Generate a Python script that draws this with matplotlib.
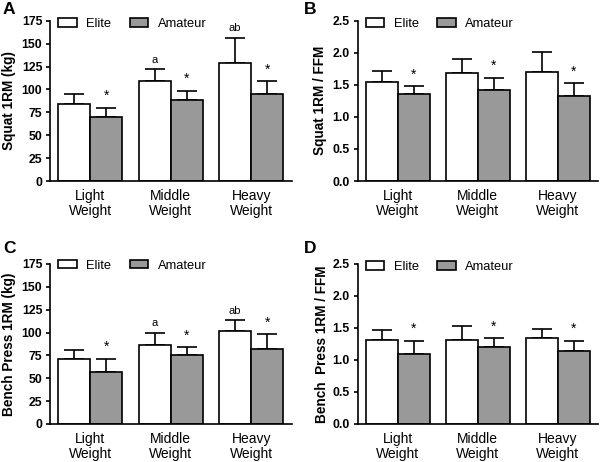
import matplotlib
matplotlib.use("Agg")
import matplotlib.pyplot as plt
from matplotlib.patches import Patch

plt.rcParams['font.family'] = ['Liberation Sans', 'DejaVu Sans']

categories = ["Light\nWeight", "Middle\nWeight", "Heavy\nWeight"]
series_names = ["Elite", "Amateur"]

# Panel A: Squat 1RM (kg)
squat_elite = [84.5, 109.5, 128.7]
squat_elite_sd = [10.5, 13.0, 27.8]
squat_amateur = [70.3, 88.5, 95.3]
squat_amateur_sd = [9.7, 10.0, 13.4]
squat_elite_marks = ["", "a", "ab"]

# Panel B: Squat 1RM / FFM
squatffm_elite = [1.55, 1.69, 1.70]
squatffm_elite_sd = [0.165, 0.207, 0.316]
squatffm_amateur = [1.35, 1.42, 1.33]
squatffm_amateur_sd = [0.125, 0.185, 0.196]
squatffm_elite_marks = ["", "", ""]

# Panel C: Bench Press 1RM (kg)
bench_elite = [71.0, 86.0, 102.0]
bench_elite_sd = [10.0, 14.0, 12.0]
bench_amateur = [57.0, 75.0, 82.5]
bench_amateur_sd = [14.0, 9.0, 15.5]
bench_elite_marks = ["", "a", "ab"]

# Panel D: Bench Press 1RM / FFM
benchffm_elite = [1.31, 1.32, 1.35]
benchffm_elite_sd = [0.16, 0.21, 0.13]
benchffm_amateur = [1.10, 1.21, 1.135]
benchffm_amateur_sd = [0.20, 0.13, 0.165]
benchffm_elite_marks = ["", "", ""]

amateur_marks = ["*", "*", "*"]

W, H = 600, 462
fig = plt.figure(figsize=(W / 100, H / 100), dpi=100)

def px_axes(left, top, right, bottom):
    return fig.add_axes([left / W, 1 - bottom / H, (right - left) / W, (bottom - top) / H])

gray = "#999999"
LW = 1.2

def panel(ax, e, esd, a, asd, emarks, ylabel, ymax, ystep, fmt, legend_y, label_x):
    x = list(range(len(categories)))
    bw = 0.4
    xe = [i - bw / 2 for i in x]
    xa = [i + bw / 2 for i in x]
    ax.bar(xe, e, width=bw, color="white", edgecolor="black", linewidth=LW, zorder=2)
    ax.bar(xa, a, width=bw, color=gray, edgecolor="black", linewidth=LW, zorder=2)
    ax.errorbar(xe, e, yerr=[[0] * 3, esd], fmt="none", ecolor="black",
                elinewidth=LW, capsize=7.5, capthick=LW, zorder=1)
    ax.errorbar(xa, a, yerr=[[0] * 3, asd], fmt="none", ecolor="black",
                elinewidth=LW, capsize=7.5, capthick=LW, zorder=1)
    for xi, v, s, m in zip(xe, e, esd, emarks):
        if m:
            ax.annotate(m, (xi, v + s), xytext=(0, 3), textcoords="offset points",
                        ha="center", va="bottom", fontsize=8)
    for xi, v, s, m in zip(xa, a, asd, amateur_marks):
        if m:
            ax.annotate(m, (xi, v + s), xytext=(0, 3.5), textcoords="offset points",
                        ha="center", va="bottom", fontsize=10)
    ax.set_xlim(-0.5, 2.5)
    ax.set_ylim(0, ymax)
    n = int(round(ymax / ystep))
    ticks = [i * ystep for i in range(n + 1)]
    ax.set_yticks(ticks)
    ax.set_yticklabels([fmt.format(t) for t in ticks], fontweight="bold", fontsize=8.8)
    ax.set_xticks(x)
    ax.set_xticklabels(categories, fontsize=10, linespacing=1.1)
    ax.tick_params(axis="x", length=0, pad=6)
    ax.tick_params(axis="y", length=3, width=LW, pad=2.5, direction="out")
    for sp in ["top", "right"]:
        ax.spines[sp].set_visible(False)
    for sp in ["left", "bottom"]:
        ax.spines[sp].set_linewidth(LW)
    ax.set_ylabel(ylabel, fontweight="bold", fontsize=9.8)
    ax.yaxis.set_label_coords(label_x, 0.5)
    handles = [Patch(facecolor="white", edgecolor="black", linewidth=LW),
               Patch(facecolor=gray, edgecolor="black", linewidth=LW)]
    ax.legend(handles, series_names, loc="center left", bbox_to_anchor=(0.035, legend_y),
              ncol=2, frameon=False, fontsize=9.3, borderpad=0, borderaxespad=0,
              handlelength=1.4, handleheight=0.65, handletextpad=0.75, columnspacing=1.45)

axA = px_axes(50, 20.7, 291.5, 181)
axB = px_axes(357.5, 20.7, 598, 181)
axC = px_axes(50, 264, 291.5, 424)
axD = px_axes(357.5, 264, 598, 424)

panel(axA, squat_elite, squat_elite_sd, squat_amateur, squat_amateur_sd, squat_elite_marks,
      "Squat 1RM (kg)", 175, 25, "{:.0f}", 0.98, -0.14)
panel(axB, squatffm_elite, squatffm_elite_sd, squatffm_amateur, squatffm_amateur_sd, squatffm_elite_marks,
      "Squat 1RM / FFM", 2.5, 0.5, "{:.1f}", 0.98, -0.125)
panel(axC, bench_elite, bench_elite_sd, bench_amateur, bench_amateur_sd, bench_elite_marks,
      "Bench Press 1RM (kg)", 175, 25, "{:.0f}", 0.99, -0.14)
panel(axD, benchffm_elite, benchffm_elite_sd, benchffm_amateur, benchffm_amateur_sd, benchffm_elite_marks,
      "Bench  Press 1RM / FFM", 2.5, 0.5, "{:.1f}", 0.98, -0.12)

for lbl, xp, yp in [("A", 3, 2), ("B", 304, 2), ("C", 3, 241), ("D", 304, 241)]:
    fig.text(xp / W, 1 - yp / H, lbl, fontsize=12.5, fontweight="bold", ha="left", va="top")

fig.savefig("out.png", dpi=100)
